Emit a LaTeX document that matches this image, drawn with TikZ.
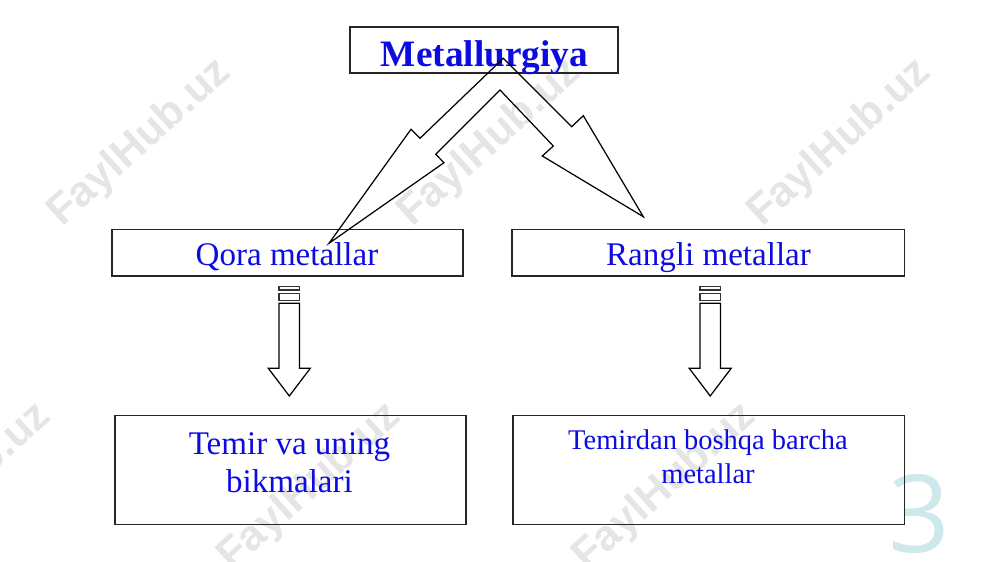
\documentclass[tikz,border=0pt]{standalone}
\usepackage{fontspec}
\setmainfont{Liberation Serif}
\newfontfamily\wmfont{Liberation Sans}
\newfontfamily\numfont{Open Sans}
\usetikzlibrary{positioning}
\definecolor{txtblue}{RGB}{12,12,225}
\definecolor{pagecyan}{RGB}{205,233,236}
\newcommand{\stripedarrow}[1]{%
  \draw[stripe] (#1-10.2,286.7) rectangle (#1+10.2,290);
  \draw[stripe] (#1-10.2,293.3) rectangle (#1+10.2,300.7);
  \draw[blockarrow] (#1-10.2,303.3) -- (#1+10.2,303.3) -- (#1+10.2,368.3)
    -- (#1+21,368.3) -- (#1,396) -- (#1-21,368.3) -- (#1-10.2,368.3) -- cycle;
}
\tikzset{
  box/.style={draw=black!85,line width=0.45pt,inner sep=0pt},
  toplbl/.style={font=\fontsize{10.6pt}{12pt}\selectfont\bfseries,
    text=txtblue,anchor=base,inner sep=0pt},
  midlbl/.style={font=\fontsize{9.4pt}{10.8pt}\selectfont,
    text=txtblue,anchor=base,inner sep=0pt},
  lowlbl/.style={font=\fontsize{9.4pt}{10.8pt}\selectfont,
    text=txtblue,align=center,anchor=base,inner sep=0pt},
  smalllbl/.style={font=\fontsize{8.1pt}{9.67pt}\selectfont,
    text=txtblue,align=center,anchor=base,inner sep=0pt},
  blockarrow/.style={draw=black,line width=0.35pt},
  stripe/.style={draw=black!80,line width=0.35pt},
  wmark/.style={font=\wmfont\bfseries\fontsize{12.2pt}{14pt}\selectfont,
    text=black!10,rotate=42,inner sep=0pt},
  pagenum/.style={font=\numfont\fontsize{30.7pt}{32pt}\selectfont,
    text=pagecyan,inner sep=0pt},
}

\begin{document}
\begin{tikzpicture}[x=0.01cm,y=-0.01cm]
  \useasboundingbox (0,0) rectangle (1000,562);
  \clip (0,0) rectangle (1000,562);
  \node[wmark] (wm1) at (140,143) {FaylHub.uz};
  \node[wmark] (wm2) at (490,143) {FaylHub.uz};
  \node[wmark] (wm3) at (840,143) {FaylHub.uz};
  \node[wmark] (wm4) at (-40,487) {FaylHub.uz};
  \node[wmark] (wm5) at (310,487) {FaylHub.uz};
  \node[wmark] (wm6) at (665,487) {FaylHub.uz};
  \node[pagenum] (num) at (919,514) {3};

  \node[box,minimum width=2.68cm,minimum height=0.46cm] (topbox) at (484,50) {};
  \node[toplbl] (toptxt) at (484.5,66.7) {Metallurgiya};
  \node[box,minimum width=3.504cm,minimum height=0.467cm] (qora) at (287.5,252.7) {};
  \node[midlbl] (qoratxt) at (287,265.7) {Qora metallar};
  \node[box,minimum width=3.92cm,minimum height=0.467cm] (rangli) at (708.3,252.7) {};
  \node[midlbl] (ranglitxt) at (708.5,265.7) {Rangli metallar};
  \node[box,minimum width=3.51cm,minimum height=1.086cm] (temir) at (290.5,470) {};
  \node[lowlbl] (temirtxt) at (289.5,492.3) {Temir va uning\\bikmalari};
  \node[box,minimum width=3.91cm,minimum height=1.086cm] (boshqa) at (708.8,470) {};
  \node[smalllbl] (boshqatxt) at (708,483.3) {Temirdan boshqa barcha\\metallar};

  \draw[blockarrow] (503.3,58.3) -- (420,138.3) -- (411,129.3) -- (329,243.3)
    -- (444,162.7) -- (435.7,154.3) -- (500,90) -- (553.3,146) -- (542.3,156)
    -- (643.3,216.7) -- (583.3,115.7) -- (571.7,126.7) -- cycle;

  \stripedarrow{289.3}
  \stripedarrow{710.2}
\end{tikzpicture}
\end{document}
